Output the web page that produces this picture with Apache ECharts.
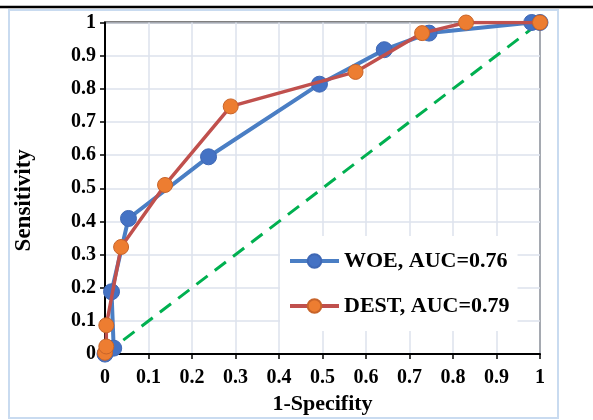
<!DOCTYPE html>
<html>
<head>
<meta charset="utf-8">
<script src="https://cdn.jsdelivr.net/npm/echarts@6/dist/echarts.min.js"></script>
<style>html,body{margin:0;padding:0;background:#fff;}#c{width:593px;height:420px;}</style>
</head>
<body>
<div id="c"></div>
<script>
// ROC data
const woeX = [0, 0.02, 0.015, 0.054, 0.238, 0.493, 0.642, 0.745, 0.981, 1];
const woeY = [0, 0.018, 0.188, 0.409, 0.595, 0.814, 0.918, 0.968, 1, 1];
const destX = [0, 0.003, 0.003, 0.037, 0.138, 0.289, 0.576, 0.729, 0.83, 1];
const destY = [0.004, 0.023, 0.087, 0.323, 0.51, 0.747, 0.851, 0.968, 1, 1];
const diagX = [0, 1];
const diagY = [0, 1];
const seriesNames = ['WOE, AUC=0.76', 'DEST, AUC=0.79'];
const xName = '1-Specifity';
const yName = 'Sensitivity';

const zip = (xs, ys) => xs.map((x, i) => [x, ys[i]]);
const font = 'Liberation Serif';

const chart = echarts.init(document.getElementById('c'));
chart.setOption({
  animation: false,
  backgroundColor: '#fff',
  graphic: [
    { type: 'line', shape: { x1: 0, y1: 7, x2: 593, y2: 7 }, style: { stroke: '#000', lineWidth: 2.5 }, z: 10 },
    { type: 'rect', shape: { x: 9, y: 10, width: 549, height: 408 }, style: { fill: 'none', stroke: '#c9dbf0', lineWidth: 2 }, z: 10 }
  ],
  grid: { left: 105, right: 53, top: 22.5, bottom: 60.5, show: true, borderColor: '#000', borderWidth: 2, backgroundColor: 'transparent' },
  legend: {
    orient: 'vertical', left: 280, top: 236,
    padding: [14, 8, 14, 8], itemGap: 23,
    backgroundColor: '#fff',
    itemWidth: 49, itemHeight: 17,
    textStyle: { fontFamily: font, fontWeight: 'bold', fontSize: 22, color: '#000' },
    data: [
      { name: seriesNames[0], lineStyle: { width: 4 } },
      { name: seriesNames[1], lineStyle: { width: 4 } }
    ]
  },
  xAxis: {
    type: 'value', min: 0, max: 1, interval: 0.1,
    name: xName, nameLocation: 'middle', nameGap: 31,
    nameTextStyle: { fontFamily: font, fontWeight: 'bold', fontSize: 22, color: '#000' },
    axisLine: { show: true, lineStyle: { color: '#000', width: 2 } },
    axisTick: { show: true, length: 5, lineStyle: { color: '#000', width: 1.5 } },
    axisLabel: { margin: 14, fontFamily: font, fontWeight: 'bold', fontSize: 20, color: '#000' },
    splitLine: { show: true, lineStyle: { color: '#dde2ec', width: 1.5 } }
  },
  yAxis: {
    type: 'value', min: 0, max: 1, interval: 0.1,
    name: yName, nameLocation: 'middle', nameGap: 69, nameRotate: 90,
    nameTextStyle: { fontFamily: font, fontWeight: 'bold', fontSize: 23, color: '#000', padding: [0, 24, 0, 0] },
    axisLine: { show: true, lineStyle: { color: '#000', width: 2 } },
    axisTick: { show: true, length: 5, lineStyle: { color: '#000', width: 1.5 } },
    axisLabel: { margin: 9, fontFamily: font, fontWeight: 'bold', fontSize: 20, color: '#000' },
    splitLine: { show: true, lineStyle: { color: '#dde2ec', width: 1.5 } }
  },
  series: [
    {
      name: 'diag', type: 'line', data: zip(diagX, diagY), symbol: 'none',
      lineStyle: { color: '#00b050', width: 3, type: [14, 9] }, z: 1
    },
    {
      name: seriesNames[0], type: 'line', data: zip(woeX, woeY),
      symbol: 'circle', symbolSize: 16,
      itemStyle: { color: '#4472c4', borderColor: '#3f68b5', borderWidth: 1 },
      lineStyle: { color: '#4a7ec4', width: 4 }, z: 2
    },
    {
      name: seriesNames[1], type: 'line', data: zip(destX, destY),
      symbol: 'circle', symbolSize: 15,
      itemStyle: { color: '#ed7d31', borderColor: '#c8642a', borderWidth: 1 },
      lineStyle: { color: '#c0504d', width: 3.5 }, z: 3
    }
  ]
});
</script>
</body>
</html>
